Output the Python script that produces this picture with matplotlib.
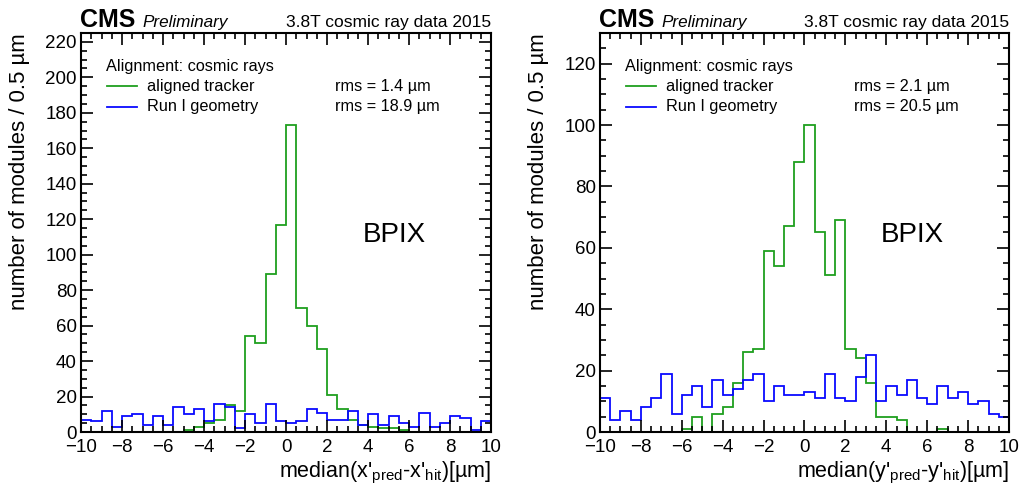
import numpy as np
import matplotlib
matplotlib.use("Agg")
import matplotlib.pyplot as plt
from matplotlib.ticker import MultipleLocator

plt.rcParams["font.family"] = ["Liberation Sans", "DejaVu Sans"]
plt.rcParams["mathtext.fontset"] = "custom"
plt.rcParams["mathtext.rm"] = "Liberation Sans"
plt.rcParams["mathtext.it"] = "Liberation Sans:italic"

# ---------- data (bins of 0.5 um from -10 to 10) ----------
bin_lo, bin_hi, n_bins = -10, 10, 40

x_aligned = [0, 0, 0, 0, 0, 0, 0, 0, 0, 0,
             1, 3, 5, 7, 15, 12, 54, 50, 89, 117,
             173, 70, 60, 47, 21, 13, 7, 4, 3, 2,
             2, 1, 0, 0, 0, 0, 0, 0, 0, 0]
x_run1 = [7, 6, 12, 3, 9, 10, 4, 9, 4, 14,
          10, 13, 6, 16, 14, 2, 10, 5, 16, 6,
          5, 6, 13, 11, 7, 7, 12, 4, 10, 4,
          9, 5, 3, 11, 3, 5, 9, 8, 1, 6]

y_aligned = [0, 0, 0, 0, 0, 0, 0, 0, 1, 5,
             0, 6, 8, 16, 26, 27, 59, 54, 67, 88,
             100, 65, 51, 69, 27, 24, 16, 5, 5, 4,
             0, 0, 0, 1, 0, 0, 0, 0, 0, 0]
y_run1 = [11, 4, 7, 4, 8, 11, 19, 6, 12, 15,
          8, 17, 12, 14, 17, 19, 10, 15, 12, 12,
          13, 11, 19, 11, 10, 18, 25, 10, 15, 12,
          17, 11, 9, 15, 11, 13, 9, 10, 6, 5]

rms_x = ["rms = 1.4 µm", "rms = 18.9 µm"]
rms_y = ["rms = 2.1 µm", "rms = 20.5 µm"]
xlabels = ["median(x'$_{\\mathrm{pred}}$-x'$_{\\mathrm{hit}}$)[µm]",
           "median(y'$_{\\mathrm{pred}}$-y'$_{\\mathrm{hit}}$)[µm]"]
ymax = [225, 130]

GREEN = "#1f9f1f"
BLUE = "#0a0aff"

edges = np.linspace(bin_lo, bin_hi, n_bins + 1)

fig = plt.figure(figsize=(10.23, 4.93), dpi=100)
positions = [[0.0792, 0.1237, 0.4008, 0.8094],
             [0.5865, 0.1237, 0.3998, 0.8094]]

panels = [(x_aligned, x_run1, rms_x), (y_aligned, y_run1, rms_y)]

for i, (aligned, run1, rms) in enumerate(panels):
    ax = fig.add_axes(positions[i])
    ax.stairs(aligned, edges, color=GREEN, linewidth=1.3)
    ax.stairs(run1, edges, color=BLUE, linewidth=1.3)

    ax.set_xlim(bin_lo, bin_hi)
    ax.set_ylim(0, ymax[i])
    ax.xaxis.set_major_locator(MultipleLocator(2))
    ax.xaxis.set_minor_locator(MultipleLocator(0.5))
    ax.yaxis.set_major_locator(MultipleLocator(20))
    ax.yaxis.set_minor_locator(MultipleLocator(5))
    ax.tick_params(which="both", direction="in", top=True, right=True, width=1.2)
    ax.tick_params(which="major", length=8.5, labelsize=13.5)
    ax.tick_params(which="minor", length=4.3)
    ax.tick_params(axis="x", pad=5)
    ax.tick_params(axis="y", pad=3)
    for s in ax.spines.values():
        s.set_linewidth(1.5)

    ax.set_xlabel(xlabels[i], fontsize=15.5, loc="right")
    ax.xaxis.set_label_coords(1.0, -0.07)
    ax.set_ylabel("number of modules / 0.5 µm", fontsize=16, loc="top")
    ax.yaxis.set_label_coords(-0.125, 1.0)

    # header
    ax.text(-0.002, 1.015, "CMS", transform=ax.transAxes, fontsize=18,
            fontweight="bold", va="baseline", ha="left")
    ax.text(0.15, 1.015, "Preliminary", transform=ax.transAxes, fontsize=12.3,
            style="italic", va="baseline", ha="left")
    ax.text(1.0, 1.015, "3.8T cosmic ray data 2015", transform=ax.transAxes,
            fontsize=12.5, va="baseline", ha="right")

    # legend
    ax.text(0.061, 0.917, "Alignment: cosmic rays", transform=ax.transAxes,
            fontsize=11.7, va="center", ha="left")
    for row, (col, lab) in enumerate([(GREEN, "aligned tracker"), (BLUE, "Run I geometry")]):
        yy = 0.867 - row * 0.052
        ax.plot([0.063, 0.137], [yy, yy], color=col, linewidth=1.3,
                transform=ax.transAxes)
        ax.text(0.161, yy, lab, transform=ax.transAxes, fontsize=11.7,
                va="center", ha="left")
        ax.text(0.62, yy, rms[row], transform=ax.transAxes, fontsize=11.7,
                va="center", ha="left")

    ax.text(0.687, 0.494, "BPIX", transform=ax.transAxes, fontsize=20,
            va="center", ha="left")

fig.savefig("out.png", dpi=100)
